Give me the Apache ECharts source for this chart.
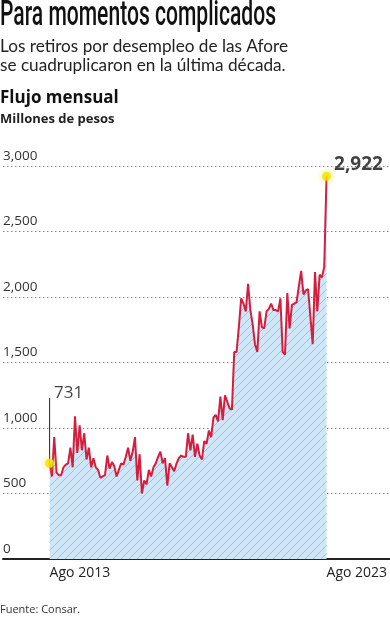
<!DOCTYPE html>
<html><head><meta charset="utf-8">
<script src="https://cdn.jsdelivr.net/npm/echarts@6/dist/echarts.min.js"></script>
<style>html,body{margin:0;padding:0;background:#fff}#c{width:390px;height:620px}</style>
</head><body><div id="c"></div>
<script>
// Monthly flow, Aug 2013 .. Aug 2023 (millions of pesos)
const values = [
 731,630,930,660,640,640,700,720,730,850,
 700,1090,810,1020,830,960,760,850,700,770,
 700,680,620,630,640,790,690,740,710,630,
 680,730,720,780,850,750,820,930,600,800,
 500,600,570,680,630,700,730,780,820,730,
 770,560,730,700,670,730,770,790,780,780,
 960,830,950,780,880,790,760,900,880,980,
 930,1080,1100,1050,1240,1060,1250,1200,1150,1140,
 1580,1580,1770,1990,1950,1890,2100,1900,1790,1640,
 1580,1890,1770,1760,1890,1910,1950,1900,1900,1890,
 1990,1580,1560,2030,1760,1940,1950,1960,2080,2200,
 2020,2050,2060,1850,1640,2190,1890,2170,2150,2230,
 2922
];
const xTickLabels = ['Ago 2013', 'Ago 2023'];
const yTicks = [0, 500, 1000, 1500, 2000, 2500, 3000];
const title = 'Para momentos complicados';
const subtitle = ['Los retiros por desempleo de las Afore', 'se cuadruplicaron en la última década.'];
const chartTitle = 'Flujo mensual';
const unitLabel = 'Millones de pesos';
const source = 'Fuente: Consar.';

const lineData = values.map((v, i) => [i, v]);
const lastIdx = values.length - 1;
const highlight = [[0, values[0]], [lastIdx, values[lastIdx]]];
const fmt = v => v.toLocaleString('en-US');

// hatch pattern
const pc = document.createElement('canvas');
pc.width = 8; pc.height = 8;
const g = pc.getContext('2d');
g.fillStyle = '#cfe6f7'; g.fillRect(0, 0, 8, 8);
g.strokeStyle = '#a4c0d6'; g.lineWidth = 1;
g.beginPath();
g.moveTo(0, 8); g.lineTo(8, 0);
g.moveTo(-1, 1); g.lineTo(1, -1);
g.moveTo(7, 9); g.lineTo(9, 7);
g.stroke();

// condensed title: measure and squeeze to the reference width
const TITLE_FONT = '500 35px Roboto, "Liberation Sans", sans-serif';
const SUB_FONT = '17px Lato, "Open Sans", sans-serif';
const mc = document.createElement('canvas').getContext('2d');
mc.font = TITLE_FONT;
const titleScale = 276 / mc.measureText(title).width;
mc.font = SUB_FONT;
const subScale = Math.min(1.1, 288 / mc.measureText(subtitle[0]).width);

const chart = echarts.init(document.getElementById('c'), null, {renderer: 'canvas'});
const FF = '"Open Sans", Lato, sans-serif';
chart.setOption({
  animation: false,
  backgroundColor: '#fff',
  graphic: [
    {type: 'text', x: 0, y: -1, scaleX: titleScale, style: {text: title, font: TITLE_FONT, fill: '#111'}},
    {type: 'text', x: 0, y: 37, scaleX: subScale, style: {text: subtitle.join('\n'), font: SUB_FONT, lineHeight: 19, fill: '#222'}},
    {type: 'text', left: 0, top: 90, style: {text: chartTitle, font: 'bold 17px ' + FF, fill: '#111'}},
    {type: 'text', left: 0, top: 113, style: {text: unitLabel, font: 'bold 13px ' + FF, fill: '#222'}},
    {type: 'text', left: 0, top: 604, style: {text: source, font: '11px ' + FF, fill: '#333'}}
  ],
  grid: {left: 0, right: 0, top: 166, bottom: 61, containLabel: false},
  xAxis: {
    type: 'value', min: -20.2, max: 147.5,
    splitLine: {show: false},
    axisLine: {show: true, lineStyle: {color: '#222', width: 2}},
    axisTick: {show: false},
    axisLabel: {
      customValues: [0, lastIdx],
      formatter: v => (v === 0 ? xTickLabels[0] : xTickLabels[1]),
      align: 'left', margin: 7, fontSize: 14, fontFamily: FF, color: '#222'
    }
  },
  yAxis: {
    type: 'value', min: yTicks[0], max: yTicks[yTicks.length - 1], interval: 500,
    axisLine: {show: false}, axisTick: {show: false},
    splitLine: {show: true, lineStyle: {type: [1.5, 2.5], color: '#888', width: 1}},
    axisLabel: {
      inside: true, margin: 0, align: 'left', verticalAlign: 'bottom',
      padding: [0, 0, 3, 0], fontSize: 13.5, fontFamily: FF, color: '#333',
      formatter: v => fmt(v)
    }
  },
  series: [
    {
      type: 'line', data: lineData, symbol: 'none',
      lineStyle: {color: '#d51e3e', width: 2},
      areaStyle: {color: {image: pc, repeat: 'repeat'}, opacity: 1},
      z: 2
    },
    {
      type: 'line', data: [highlight[0], [0, 1230]], symbol: 'none',
      lineStyle: {color: '#222', width: 1}, z: 1, silent: true
    },
    {
      type: 'scatter', symbolSize: 9,
      itemStyle: {color: '#f4e400', shadowBlur: 6, shadowColor: 'rgba(240,215,0,0.9)'},
      z: 5,
      label: {show: true, formatter: p => fmt(p.value[1]), color: '#111'},
      data: [
        {value: highlight[0], label: {position: 'top', offset: [19, -52], fontSize: 17, fontFamily: FF}},
        {value: highlight[1], label: {position: 'right', offset: [-2, -12], fontSize: 19, fontWeight: 'bold', fontFamily: FF}}
      ]
    }
  ]
});
</script></body></html>
